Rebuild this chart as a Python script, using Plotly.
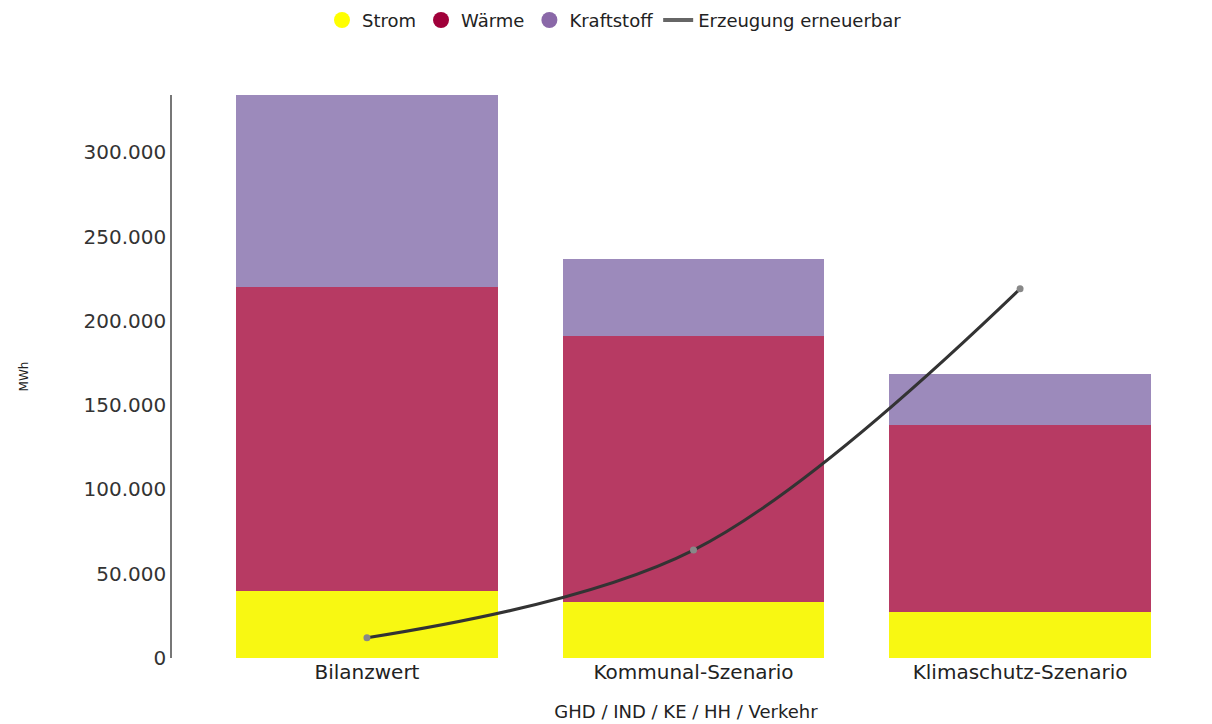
import plotly.graph_objects as go

categories = ["Bilanzwert", "Kommunal-Szenario", "Klimaschutz-Szenario"]
strom = [40000, 33000, 27000]
waerme = [180000, 158000, 111000]
kraftstoff = [114000, 46000, 30500]
erzeugung = [12000, 64000, 219000]

series_names = ["Strom", "Wärme", "Kraftstoff"]
bar_colors = ["#f8f812", "#b73a63", "#9c8abb"]
legend_colors = ["#ffff00", "#a0003a", "#8a68a8"]

FONT = "DejaVu Sans, Liberation Sans, Arial, sans-serif"

fig = go.Figure()
for name, vals, col in zip(series_names, [strom, waerme, kraftstoff], bar_colors):
    fig.add_trace(go.Bar(x=categories, y=vals, name=name, marker=dict(color=col, line=dict(width=0)),
                         width=0.8, showlegend=False))
# legend entries with circle symbols
for name, col in zip(series_names, legend_colors):
    fig.add_trace(go.Scatter(x=[None], y=[None], mode="markers", name=name,
                             marker=dict(symbol="circle", size=21, color=col)))
fig.add_trace(go.Scatter(x=[None], y=[None], mode="lines", name="Erzeugung erneuerbar",
                         line=dict(color="#666666", width=4)))
fig.add_trace(go.Scatter(x=categories, y=erzeugung, name="Erzeugung erneuerbar", mode="lines+markers",
                         line=dict(color="#333333", width=3, shape="spline"),
                         marker=dict(size=7, color="#888888"), showlegend=False))

fig.update_layout(
    width=1212, height=724,
    barmode="stack",
    separators=",.",
    paper_bgcolor="white", plot_bgcolor="white",
    margin=dict(l=172, r=12, t=95, b=66),
    font=dict(family=FONT, color="#222222"),
    legend=dict(orientation="h", xref="container", yref="container", x=0.507, xanchor="center",
                y=0.972, yanchor="middle", font=dict(size=18, color="#222222"),
                itemwidth=30, tracegroupgap=0, traceorder="normal"),
    xaxis=dict(range=[-0.597, 2.551], showgrid=False, showline=False, ticks="", automargin=False,
               tickfont=dict(size=20, color="#222222"),
               title=dict(text="GHD / IND / KE / HH / Verkehr", font=dict(size=18, color="#222222"), standoff=22)),
    yaxis=dict(range=[0, 334000], showgrid=False, zeroline=False, showline=True, linecolor="#777777", linewidth=1.5,
               automargin=False,
               tickvals=[0, 50000, 100000, 150000, 200000, 250000, 300000], tickformat=",d",
               tickfont=dict(size=20, color="#333333"), ticks="", ticklen=0,
               title=dict(text="MWh", font=dict(size=12, color="#222222"), standoff=52)),
)

fig.write_html("out.html")
